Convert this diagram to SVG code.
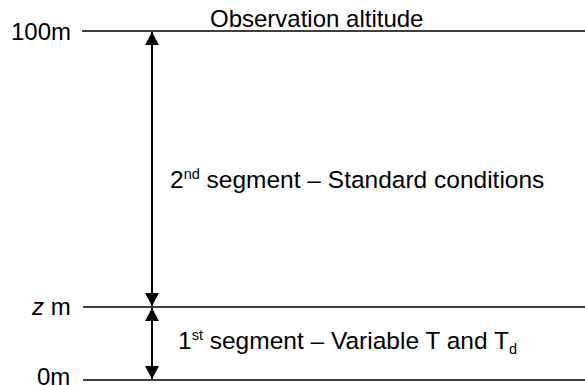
<svg xmlns="http://www.w3.org/2000/svg" width="585" height="385" viewBox="0 0 585 385">
<style>
text{font-family:"Liberation Sans",Arial,sans-serif;font-size:24px;fill:#000}
.seg{font-size:24.5px}
.ln{stroke:#000;stroke-width:1.5;fill:none}
.ar{stroke:#000;stroke-width:2;fill:none}
.sm{font-size:14.5px}
</style>
<defs>
<marker id="ah" viewBox="0 0 13 14" refX="13" refY="7" markerWidth="13" markerHeight="14" markerUnits="userSpaceOnUse" orient="auto-start-reverse"><path d="M0,0 L13,7 L0,14 Z" fill="#000"/></marker>
</defs>
<g id="level-100m">
<line class="ln" x1="82" y1="31" x2="585" y2="31"/>
<text x="11" y="40">100m</text>
<text x="210" y="27">Observation altitude</text>
</g>
<g id="level-z">
<line class="ln" x1="83" y1="307" x2="585" y2="307"/>
<text x="32" y="315"><tspan font-style="italic">z</tspan> m</text>
</g>
<g id="level-0m">
<line class="ln" x1="83" y1="380" x2="585" y2="380"/>
<text x="37" y="384.5">0m</text>
</g>
<g id="connectors">
<line class="ar" x1="152" y1="32" x2="152" y2="306" marker-start="url(#ah)" marker-end="url(#ah)"/>
<line class="ar" x1="152" y1="308" x2="152" y2="379" marker-start="url(#ah)" marker-end="url(#ah)"/>
</g>
<g id="segment-2">
<text class="seg" x="170" y="188">2<tspan class="sm" dy="-9">nd</tspan><tspan dy="9"> segment – Standard conditions</tspan></text>
</g>
<g id="segment-1">
<text class="seg" x="178" y="349">1<tspan class="sm" dy="-9">st</tspan><tspan dy="9"> segment – Variable T and T</tspan><tspan class="sm" dy="5">d</tspan></text>
</g>
</svg>
